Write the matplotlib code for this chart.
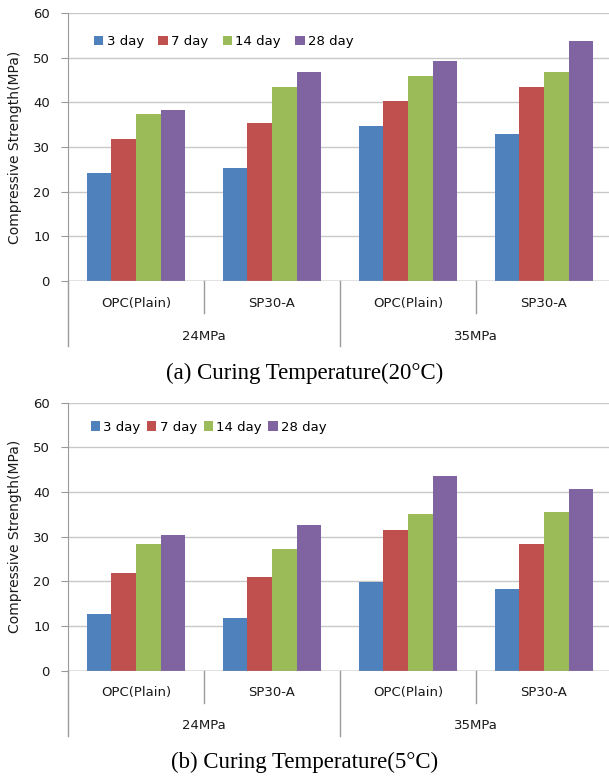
import numpy as np
import matplotlib
matplotlib.use("Agg")
from matplotlib import pyplot as plt
from matplotlib.lines import Line2D

series = ["3 day", "7 day", "14 day", "28 day"]
colors = ["#4F81BD", "#C0504D", "#9BBB59", "#8064A2"]
mixes = ["OPC(Plain)", "SP30-A", "OPC(Plain)", "SP30-A"]
grades = ["24MPa", "35MPa"]

# rows = mixes in order, columns = 3/7/14/28 day
strength_20c = [
    [24.2, 31.8, 37.3, 38.2],
    [25.4, 35.4, 43.5, 46.8],
    [34.8, 40.4, 46.0, 49.3],
    [32.8, 43.5, 46.8, 53.8],
]
strength_5c = [
    [12.6, 21.8, 28.4, 30.4],
    [11.7, 20.9, 27.3, 32.6],
    [19.8, 31.5, 35.1, 43.5],
    [18.2, 28.4, 35.6, 40.7],
]
captions = ["(a) Curing Temperature(20\u00b0C)", "(b) Curing Temperature(5\u00b0C)"]

W, H = 609, 776
fig = plt.figure(figsize=(W / 100, H / 100), dpi=100)

grid_col = "#C8C8C8"
axis_col = "#9A9A9A"
txt_col = "#1A1A1A"


def draw_panel(top_px, zero_px, values, caption, cap_px, leg_x, leg_y, colsp):
    ax = fig.add_axes([68 / W, 1 - zero_px / H, (612 - 68) / W, (zero_px - top_px) / H])
    vals = np.array(values)
    n = len(series)
    w = 1 / 5.5
    x = np.arange(len(mixes)) + 0.5
    for j in range(n):
        ax.bar(x + (j - (n - 1) / 2) * w, vals[:, j], width=w, color=colors[j],
               label=series[j], zorder=3)
    ax.set_xlim(0, len(mixes))
    ax.set_ylim(0, 60)
    ax.set_yticks(range(0, 61, 10))
    ax.set_xticks([])
    ax.grid(axis="y", color=grid_col, lw=1.0, zorder=0)
    for s in ["top", "right", "bottom"]:
        ax.spines[s].set_visible(False)
    ax.spines["left"].set_color(axis_col)
    ax.axhline(0, color=axis_col, lw=1.0, zorder=4)
    ax.tick_params(axis="y", length=5, color=axis_col, pad=8, labelsize=9.5, labelcolor=txt_col)

    trans = ax.get_xaxis_transform()
    hpx = zero_px - top_px
    # separators under the axis
    for xb, depth in [(0, 65), (1, 32), (2, 65), (3, 32), (4, 65)]:
        ax.add_line(Line2D([xb, xb], [0, -depth / hpx], transform=trans, color=axis_col,
                           lw=1.0, clip_on=False))
    for i, m in enumerate(mixes):
        ax.text(i + 0.5, -22 / hpx, m, transform=trans, ha="center", va="center",
                fontsize=9.5, color=txt_col)
    for g, name in enumerate(grades):
        ax.text(2 * g + 1, -55 / hpx, name, transform=trans, ha="center", va="center",
                fontsize=9.5, color=txt_col)

    ax.legend(loc="center left", bbox_to_anchor=(leg_x, leg_y), ncol=4, frameon=False,
              handlelength=0.7, handleheight=0.7, handletextpad=0.25, columnspacing=colsp,
              borderpad=0, borderaxespad=0, fontsize=9.5)

    fig.text(15 / W, 1 - (top_px + zero_px) / 2 / H, "Compressive Strength(MPa)", rotation=90,
             ha="center", va="center", fontsize=10, color=txt_col)
    fig.text(305 / W, 1 - cap_px / H, caption, ha="center", va="center",
             fontsize=16.5, family="Liberation Serif")
    return ax


draw_panel(13, 281, strength_20c, captions[0], 373, 0.048, 0.892, 1.1)
draw_panel(402.7, 670.5, strength_5c, captions[1], 762, 0.042, 0.909, 0.5)

fig.savefig("out.png", dpi=100)
